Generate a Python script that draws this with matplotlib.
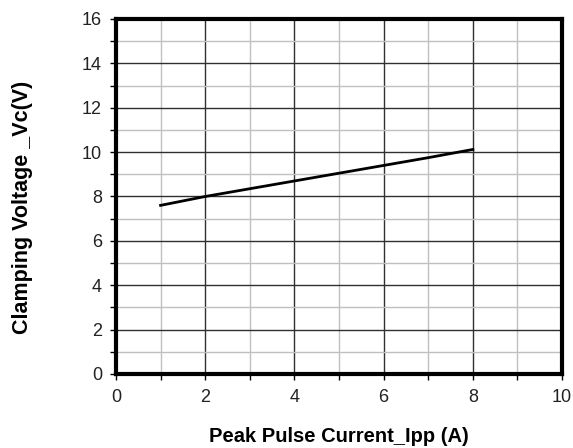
import matplotlib
matplotlib.use("Agg")
import matplotlib.pyplot as plt
from matplotlib.ticker import MultipleLocator

plt.rcParams['font.family'] = ['Liberation Sans', 'DejaVu Sans']

# Peak pulse current (A) vs clamping voltage (V)
ipp = [1, 2, 3, 4, 5, 6, 7, 8]
vc = [7.6, 8.0, 8.35, 8.7, 9.05, 9.4, 9.75, 10.12]

fig = plt.figure(figsize=(5.73, 4.48), dpi=100)
ax = fig.add_axes([0.2024, 0.1652, 0.7786, 0.7924])

ax.set_xlim(0, 10)
ax.set_ylim(0, 16)
ax.xaxis.set_major_locator(MultipleLocator(2))
ax.xaxis.set_minor_locator(MultipleLocator(1))
ax.yaxis.set_major_locator(MultipleLocator(2))
ax.yaxis.set_minor_locator(MultipleLocator(1))

ax.grid(which='minor', color='#c0c0c0', linewidth=1.0)
ax.grid(which='major', color='#303030', linewidth=1.0)
ax.set_axisbelow(True)

ax.plot(ipp, vc, color='black', linewidth=2.0)

for s in ax.spines.values():
    s.set_linewidth(3.0)
    s.set_color('black')

ax.tick_params(which='both', direction='out', color='black', width=1.0)
ax.tick_params(which='major', length=4, labelsize=13, labelcolor='#222222')
ax.tick_params(axis='x', which='major', pad=7)
ax.tick_params(axis='y', which='major', pad=6)
ax.tick_params(which='minor', length=4)

ax.set_xlabel('Peak Pulse Current_Ipp (A)', fontsize=14.5, fontweight='bold')
ax.set_ylabel('Clamping Voltage _Vc(V)', fontsize=15.5, fontweight='bold')
ax.xaxis.set_label_coords(0.5, -0.148)
ax.yaxis.set_label_coords(-0.186, 0.47)

fig.savefig('out.png', dpi=100)
